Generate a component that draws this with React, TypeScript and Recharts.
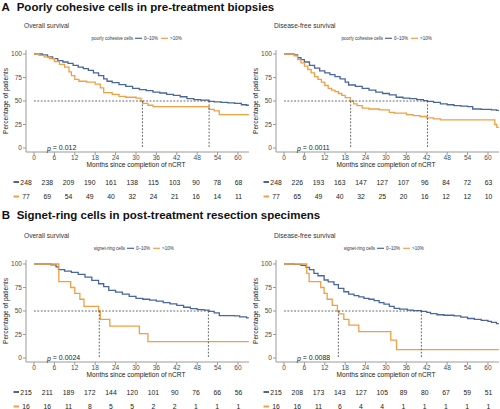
import React from 'react';
import { LineChart, Line, XAxis, YAxis, ReferenceLine, ReferenceDot, ScatterChart, Scatter } from 'recharts';

const BLUE = '#48679c';
const ORANGE = '#f0a043';
const FONT = '"Liberation Sans", Arial, Helvetica, sans-serif';

const monthTicks = [0, 6, 12, 18, 24, 30, 36, 42, 48, 54, 60];
const pctTicks = [0, 25, 50, 75, 100];

// Kaplan-Meier steps: [months, % of patients]
const aOsLow = [[0, 100], [2.5, 99], [4, 97], [5.5, 95], [7, 93], [8.5, 91.5], [10, 90], [11.5, 88], [13, 86], [14.5, 84.5], [16, 82.5], [17.5, 80], [19, 77], [20.5, 73.5], [21.5, 71], [23, 69.5], [25, 67.5], [27, 65.5], [29, 63.5], [31, 62], [33, 61], [35, 59.5], [37, 58.5], [39, 57], [41, 56], [43, 54.5], [45, 52.5], [47, 51.5], [49, 51], [51.5, 49.5], [53, 49], [55, 48.5], [57, 48], [59, 47.5], [61, 46], [62.5, 45.5], [63.2, 45.5]];
const aOsHigh = [[0, 100], [1.5, 98.5], [3, 97], [4.5, 95], [6, 92], [7.5, 89], [9, 86], [10.3, 81], [11, 77], [12, 73], [13.2, 71], [15.5, 70], [18, 68], [19.5, 64], [20.5, 59], [23, 57], [25, 55], [27, 54], [30, 53], [31.5, 50], [32, 47.5], [33.5, 45.5], [35, 44], [51.5, 41], [53, 39.5], [54.5, 35.5], [63.2, 35.5]];
const aDfsLow = [[0, 100], [3, 99], [4, 96], [5, 94], [6, 91.5], [7.5, 88], [9, 85], [10.5, 82], [12, 80], [13.5, 78], [15, 76], [16.5, 73.5], [18, 70], [19, 67], [21, 65.5], [23, 63.5], [25, 61.5], [27, 59.5], [29, 58], [31, 56.5], [33, 54], [35, 53], [37, 52.5], [39, 51.5], [41, 50.5], [42.2, 49.5], [44, 48.5], [46, 47], [48, 46], [50, 45], [52, 44.5], [54, 44], [55.5, 41.5], [58, 41], [61, 40.5], [62.5, 40], [63.2, 40]];
const aDfsHigh = [[0, 100], [3, 98], [4, 94], [5, 90.5], [6, 87], [7, 83.5], [8, 80], [9, 76], [10, 73], [11, 70], [12, 66.5], [13, 63.5], [14, 61.5], [15, 60], [16, 58], [17, 56], [18, 53.5], [19.5, 50], [20.5, 47], [21.5, 45], [23, 42.5], [25, 41.5], [28, 40.5], [31, 38], [32.5, 37], [36, 35.5], [38, 34.5], [40, 33.5], [42, 32], [44, 31], [46, 30], [62, 25], [62.6, 22], [63.2, 22]];
const bOsLow = [[0, 100], [5, 99], [6.5, 97], [7.2, 94], [9, 92.5], [11, 91], [13, 89], [15, 86], [17, 82.5], [19, 79], [20.5, 76], [22, 72], [24, 70], [26, 68], [28, 65.5], [30, 63.5], [32, 62.5], [34, 61.5], [36, 60.5], [38, 59], [40, 57.5], [42, 56], [44, 54], [46, 52.5], [48, 51.5], [50, 51], [51.5, 49.5], [53, 48], [54.5, 45], [59, 44.8], [60.5, 43.7], [62.5, 42.7], [63.2, 42.7]];
const bOsHigh = [[0, 100], [7.3, 81.25], [10.8, 75], [12, 68.75], [13.5, 62.5], [14.7, 55], [19, 50], [19.5, 41], [22.3, 34], [31, 26], [33.5, 17.5], [63.2, 17.5]];
const bDfsLow = [[0, 100], [3, 99.5], [5, 98.5], [6.5, 96.5], [7.5, 94], [8.8, 90], [10, 87.5], [11.8, 83], [13, 81], [14.7, 78], [16, 74], [17.6, 70.5], [19, 68], [20.6, 66.3], [22, 65], [23.5, 63.4], [25, 62.5], [26.5, 61], [28, 59], [29.4, 57.3], [31, 55], [32.4, 52.7], [34, 52], [36.3, 51], [38, 50.5], [40.4, 49.5], [42, 48.5], [43.1, 47.3], [45, 46], [47, 45.5], [50, 44.8], [52, 43.5], [54, 42], [56, 41], [58, 40], [60, 39], [61, 38], [62.5, 36.5], [63.2, 36.5]];
const bDfsHigh = [[0, 100], [6.7, 90], [7.4, 81.25], [10.8, 75], [11.8, 68.75], [12.7, 62.5], [14.2, 56], [15.7, 50], [16.2, 47], [17.6, 41], [19.1, 35], [22, 28], [31.4, 19], [33.1, 9], [63.2, 9]];

// numbers at risk at each month tick
const aOsRiskLow = [248, 238, 209, 190, 161, 138, 115, 103, 90, 78, 68];
const aOsRiskHigh = [77, 69, 54, 49, 40, 32, 24, 21, 16, 14, 11];
const aDfsRiskLow = [248, 226, 193, 163, 147, 127, 107, 96, 84, 72, 63];
const aDfsRiskHigh = [77, 65, 49, 40, 32, 25, 20, 16, 12, 12, 10];
const bOsRiskLow = [215, 211, 189, 172, 144, 120, 101, 90, 76, 66, 56];
const bOsRiskHigh = [16, 16, 11, 8, 5, 5, 2, 2, 1, 1, 1];
const bDfsRiskLow = [215, 208, 173, 143, 127, 105, 89, 80, 67, 59, 51];
const bDfsRiskHigh = [16, 16, 11, 6, 4, 4, 1, 1, 1, 1, 1];

const toPts = (arr: number[][]) => arr.map(([t, s]) => ({ t, s }));

const axisText = { fontSize: 6.6, fill: '#4d4d4d', fontFamily: FONT };
const dash = { stroke: '#555', strokeDasharray: '1.8 1.6', strokeWidth: 0.9 };

type PanelProps = {
  left: number;
  top: number;
  low: number[][];
  high: number[][];
  medLow: number;
  medHigh: number;
  pval: string;
  riskLow: number[];
  riskHigh: number[];
};

const Panel = ({ left, top, low, high, medLow, medHigh, pval, riskLow, riskHigh }: PanelProps) => {
  const riskRows = [
    ...monthTicks.map((t, i) => ({ t, row: 1, n: riskLow[i] })),
    ...monthTicks.map((t, i) => ({ t, row: 0, n: riskHigh[i] })),
  ];
  return (
    <div style={{ position: 'absolute', left, top, width: 250, height: 205 }}>
      <div style={{ position: 'absolute', left: 0, top: 0 }}>
        <LineChart width={250} height={170} margin={{ top: 50, right: 1, bottom: 6, left: 6 }}>
          <XAxis
            type="number"
            dataKey="t"
            domain={[-2.35, 63.24]}
            ticks={monthTicks}
            interval={0}
            allowDataOverflow
            height={12}
            tickSize={3}
            tickMargin={0}
            stroke="#9a9a9a"
            tick={axisText}
          />
          <YAxis
            type="number"
            domain={[-4.26, 104.26]}
            ticks={pctTicks}
            interval={0}
            allowDataOverflow
            width={20}
            tickSize={3}
            tickMargin={1}
            stroke="#9a9a9a"
            tick={axisText}
          />
          <Line data={toPts(low)} dataKey="s" type="stepAfter" stroke={BLUE} strokeWidth={1.3} dot={false} isAnimationActive={false} />
          <Line data={toPts(high)} dataKey="s" type="stepAfter" stroke={ORANGE} strokeWidth={1.3} dot={false} isAnimationActive={false} />
          <ReferenceLine segment={[{ x: 0, y: 50 }, { x: medLow, y: 50 }]} {...dash} />
          <ReferenceLine segment={[{ x: medHigh, y: 50 }, { x: medHigh, y: 0 }]} {...dash} />
          <ReferenceLine segment={[{ x: medLow, y: 50 }, { x: medLow, y: 0 }]} {...dash} />
          <ReferenceDot
            x={3.8}
            y={0}
            shape={(p: any) => (
              <text x={p.cx} y={p.cy} dominantBaseline="central" fontSize={7} fontFamily={FONT} fill="#222">
                <tspan fontStyle="italic">p</tspan> = {pval}
              </text>
            )}
          />
        </LineChart>
      </div>
      <div style={{ position: 'absolute', left: 0, top: 170 }}>
        <ScatterChart width={250} height={34} margin={{ top: 12, right: 0.2, bottom: 7.5, left: 6.5 }}>
          <XAxis type="number" dataKey="t" domain={[-1, 63.2]} hide />
          <YAxis
            type="number"
            dataKey="row"
            domain={[0, 1]}
            ticks={[0, 1]}
            interval={0}
            width={16}
            axisLine={false}
            tickLine={false}
            tick={(p: any) => (
              <line x1={13.5} x2={19} y1={p.y} y2={p.y} stroke={p.payload.value === 1 ? BLUE : ORANGE} strokeWidth={2} />
            )}
          />
          <Scatter
            data={riskRows}
            isAnimationActive={false}
            shape={(p: any) => (
              <text x={p.cx} y={p.cy} textAnchor="middle" dominantBaseline="central" fontSize={6.8} fontFamily={FONT} fill="#222">
                {p.payload.n}
              </text>
            )}
          />
        </ScatterChart>
      </div>
    </div>
  );
};

const PanelText = ({ dx, dy, subtitle, legendTitle, keyX }: { dx: number; dy: number; subtitle: string; legendTitle: string; keyX: number }) => (
  <g transform={`translate(${dx},${dy})`} fontFamily={FONT}>
    <text x={24} y={25} dominantBaseline="central" fontSize={6.6} fill="#333">{subtitle}</text>
    <text x={keyX - 2} y={38.3} textAnchor="end" dominantBaseline="central" fontSize={4.5} fill="#333">{legendTitle}</text>
    <line x1={keyX} x2={keyX + 7} y1={38.3} y2={38.3} stroke={BLUE} strokeWidth={1.2} />
    <text x={keyX + 9} y={38.3} dominantBaseline="central" fontSize={4.5} fill="#333">0–10%</text>
    <line x1={keyX + 26} x2={keyX + 33} y1={38.3} y2={38.3} stroke={ORANGE} strokeWidth={1.2} />
    <text x={keyX + 35} y={38.3} dominantBaseline="central" fontSize={4.5} fill="#333">&gt;10%</text>
    <text transform="translate(5.7,101) rotate(-90)" textAnchor="middle" dominantBaseline="central" fontSize={6.6} fill="#222">
      Percentage of patients
    </text>
    <text x={136} y={164} textAnchor="middle" dominantBaseline="central" fontSize={6.6} fill="#222">
      Months since completion of nCRT
    </text>
  </g>
);

export default function App() {
  return (
    <div style={{ position: 'absolute', left: 0, top: 0, width: 500, height: 409, background: '#fff', overflow: 'hidden', fontFamily: FONT }}>
      <Panel left={0} top={0} low={aOsLow} high={aOsHigh} medLow={51.5} medHigh={31.9} pval="0.012" riskLow={aOsRiskLow} riskHigh={aOsRiskHigh} />
      <Panel left={250} top={0} low={aDfsLow} high={aDfsHigh} medLow={42.2} medHigh={19.6} pval="0.0011" riskLow={aDfsRiskLow} riskHigh={aDfsRiskHigh} />
      <Panel left={0} top={210} low={bOsLow} high={bOsHigh} medLow={51.3} medHigh={19.2} pval="0.0024" riskLow={bOsRiskLow} riskHigh={bOsRiskHigh} />
      <Panel left={250} top={210} low={bDfsLow} high={bDfsHigh} medLow={40.4} medHigh={16} pval="0.0088" riskLow={bDfsRiskLow} riskHigh={bDfsRiskHigh} />
      <svg width={500} height={409} style={{ position: 'absolute', left: 0, top: 0, pointerEvents: 'none' }}>
        <g fontFamily={FONT} fontWeight="bold" fontSize={11.5} fill="#111">
          <text x={1.5} y={11.3}>A</text>
          <text x={16.7} y={11.3}>Poorly cohesive cells in pre-treatment biopsies</text>
          <text x={1.7} y={219}>B</text>
          <text x={16.7} y={219}>Signet-ring cells in post-treatment resection specimens</text>
        </g>
        <PanelText dx={0} dy={0} subtitle="Overall survival" legendTitle="poorly cohesive cells" keyX={135} />
        <PanelText dx={250} dy={0} subtitle="Disease-free survival" legendTitle="poorly cohesive cells" keyX={135} />
        <PanelText dx={0} dy={210} subtitle="Overall survival" legendTitle="signet-ring cells" keyX={127} />
        <PanelText dx={250} dy={210} subtitle="Disease-free survival" legendTitle="signet-ring cells" keyX={127} />
      </svg>
    </div>
  );
}
